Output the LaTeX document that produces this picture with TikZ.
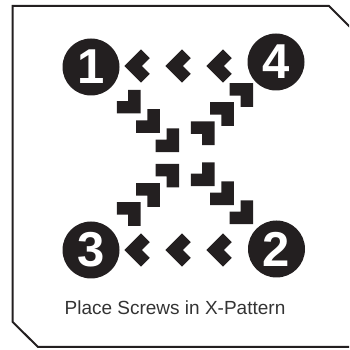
\documentclass[tikz,border=0pt]{standalone}
\usepackage{fontspec}
\setmainfont{Liberation Sans}
\usetikzlibrary{positioning}
\definecolor{ink}{HTML}{231F20}
\definecolor{caption}{HTML}{333333}
\tikzset{
  screw/.style={circle,fill=ink,text=white,minimum size=57pt,inner sep=0pt,
    font=\fontsize{49}{49}\selectfont\bfseries},
  frame/.style={ink,line width=2pt,line join=miter},
}
% L-shaped arrow piece, its corner turned by #3
\newcommand{\chevron}[3]{%
  \fill[ink,shift={(#1,#2)},rotate=#3]
    (-11.8,-11.8) -- (11.8,-11.8) -- (11.8,0.6) -- (0.6,0.6) -- (0.6,11.8) -- (-11.8,11.8) -- cycle;}

\begin{document}
\begin{tikzpicture}[x=1pt,y=1pt]
  \useasboundingbox (0,0) rectangle (349,350);
  \clip (0,0) rectangle (349,350);
  % Frame with cut corners
  \draw[frame] (362,3) -- (38,3) -- (12.7,28) -- (12.7,344) -- (329,344) -- (362,311);

  % Screws
  \node[screw] (s1) at (91,283) {1};
  \node[screw] (s4) at (276,288) {4};
  \node[screw] (s3) at (91,100) {3};
  \node[screw] (s2) at (276.5,101) {2};

  % Top and bottom rows, pointing left
  \foreach \x in {141,182,223} {
    \chevron{\x}{284}{-45}
    \chevron{\x}{100}{-45}
  }
  % 1 to 2, pointing down-right
  \foreach \x/\y in {128.7/248.3,148/229,167.3/209.7,202.7/175.7,222/156.7,241.3/137.7} {
    \chevron{\x}{\y}{90}
  }
  % 3 to 4, pointing up-right
  \foreach \x/\y in {128.7/136,148/155,167.3/174.3,202.7/216.7,222/236,241.3/255} {
    \chevron{\x}{\y}{180}
  }

  \node[font=\fontsize{19}{22}\selectfont,text=caption,anchor=base] (label) at (175,35.7) {Place Screws in X-Pattern};
\end{tikzpicture}
\end{document}
